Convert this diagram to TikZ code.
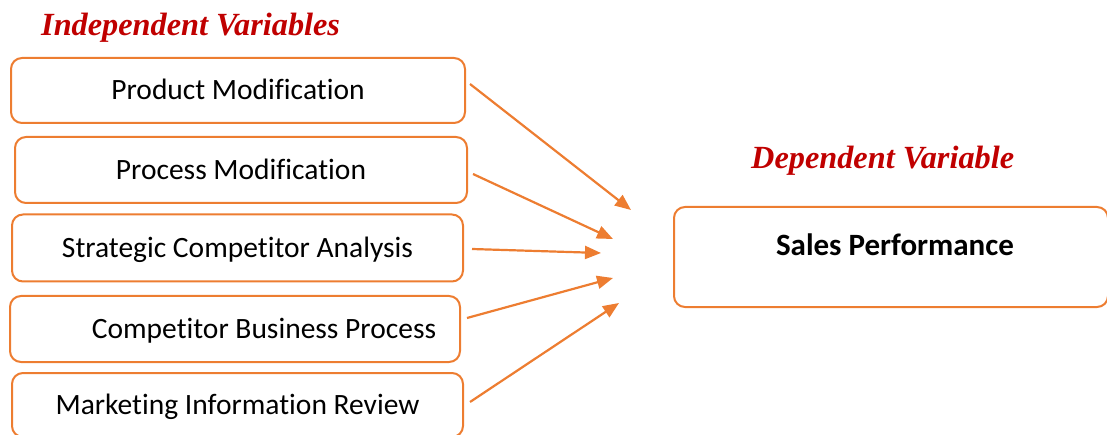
\documentclass[tikz,border=0pt]{standalone}
\usepackage{fontspec}
\setmainfont{Carlito}[Ligatures={NoCommon}]
\newfontfamily\headfont{Liberation Serif}
\usetikzlibrary{arrows.meta,positioning}
\definecolor{boxcol}{HTML}{ED7D31}
\definecolor{headcol}{HTML}{C00000}
\tikzstyle{influence} = [-{Triangle[length=16pt,width=13pt]},boxcol,line width=2.2pt]
\tikzset{
  var box/.style = {
    shape = rectangle,
    draw = boxcol,
    line width = 2pt,
    rounded corners = 11pt,
    minimum height = 65pt,
    inner sep = 0pt,
    font = \fontsize{29.5}{35}\selectfont,
    text height = 19pt,
    text depth = 0pt,
    },
  header/.style = {
    font = \headfont\bfseries\itshape\fontsize{32.3}{38}\selectfont,
    text = headcol,
    anchor = base west,
    inner sep = 0pt,
    },
  sales label/.style = {
    font = \bfseries\fontsize{31}{37}\selectfont,
    text height = 20pt,
    text depth = 0pt,
    xshift = 4pt,
    yshift = 11pt,
    }
}

\begin{document}
\begin{tikzpicture}[x=1pt,y=-1pt]
    \useasboundingbox (0,0) rectangle (1107,435);

    % independent variables
    \node[header] (indhead) at (41,36) {Independent Variables};
    \node[var box, minimum width=454pt] (prodmod) at (238,90.5) {Product Modification};
    \node[var box, minimum width=452pt, minimum height=66pt] (procmod) at (241,170) {Process Modification};
    \node[var box, minimum width=451pt, minimum height=67pt] (strat) at (237.5,248) {Strategic Competitor Analysis};
    \node[var box, minimum width=450pt, minimum height=66pt] (compbus) at (235,329) {\hspace*{58pt}Competitor Business Process};
    \node[var box, minimum width=451pt, minimum height=64pt] (mktinfo) at (237.5,405) {Marketing Information Review};

    % dependent variable
    \node[header] (dephead) at (751,169) {Dependent Variable};
    \node[var box, minimum width=434pt, minimum height=100pt,
        label={[sales label]center:Sales Performance}] (sales) at (891,257) {};

    % arrow tips
    \coordinate (t1) at (631,210);
    \coordinate (t2) at (613,239);
    \coordinate (t3) at (601,253);
    \coordinate (t4) at (613,278);
    \coordinate (t5) at (619,303);

    % Paths
    \draw[influence] ([xshift=4pt,yshift=6.5pt]prodmod.east) -- (t1);
    \draw[influence] ([xshift=5pt,yshift=-4pt]procmod.east) -- (t2);
    \draw[influence] ([xshift=8pt,yshift=-1pt]strat.east) -- (t3);
    \draw[influence] ([xshift=6pt,yshift=11pt]compbus.east) -- (t4);
    \draw[influence] ([xshift=6pt,yshift=3pt]mktinfo.east) -- (t5);

\end{tikzpicture}
\end{document}
